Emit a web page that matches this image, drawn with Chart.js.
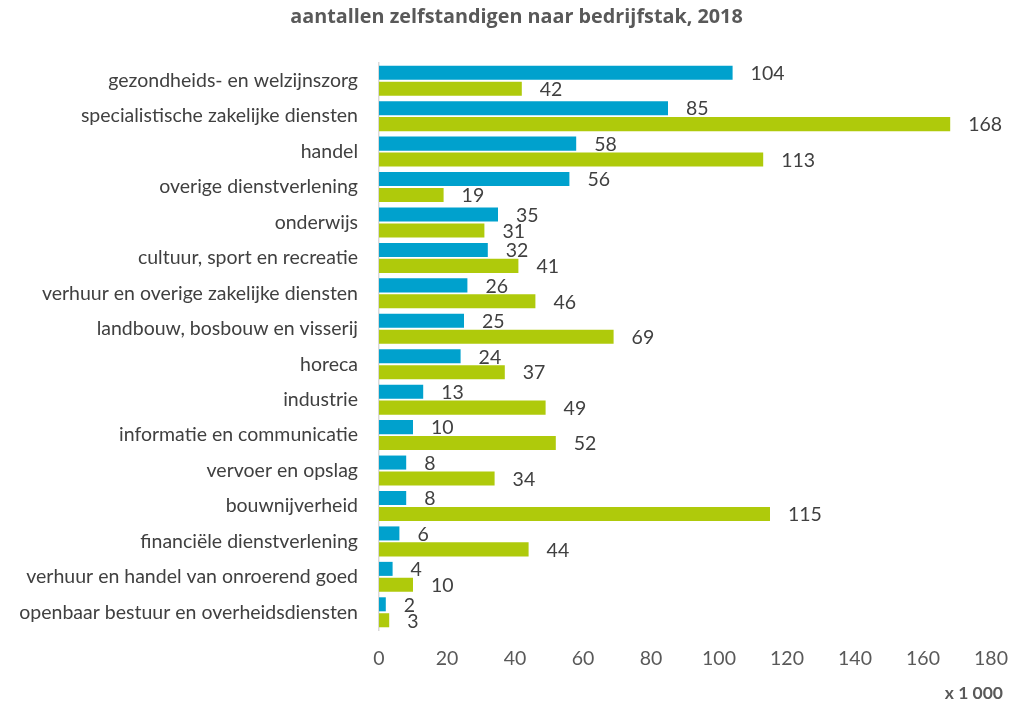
<!DOCTYPE html>
<html>
<head>
<meta charset="utf-8">
<script src="https://cdn.jsdelivr.net/npm/chart.js@4/dist/chart.umd.min.js"></script>
<style>
  html, body { margin: 0; padding: 0; background: #fff; }
  #wrap { width: 1016px; height: 706px; }
</style>
</head>
<body>
<div id="wrap"><canvas id="chart"></canvas></div>
<script>
var chartTitle = 'aantallen zelfstandigen naar bedrijfstak, 2018';
var unitLabel = 'x 1 000';

// bedrijfstakken, van boven naar beneden
var categories = [
    "gezondheids- en welzijnszorg",
    "specialistische zakelijke diensten",
    "handel",
    "overige dienstverlening",
    "onderwijs",
    "cultuur, sport en recreatie",
    "verhuur en overige zakelijke diensten",
    "landbouw, bosbouw en visserij",
    "horeca",
    "industrie",
    "informatie en communicatie",
    "vervoer en opslag",
    "bouwnijverheid",
    "financiële dienstverlening",
    "verhuur en handel van onroerend goed",
    "openbaar bestuur en overheidsdiensten"
];

// x 1 000
var blueValues  = [104, 85, 58, 56, 35, 32, 26, 25, 24, 13, 10, 8, 8, 6, 4, 2];
var greenValues = [42, 168, 113, 19, 31, 41, 46, 69, 37, 49, 52, 34, 115, 44, 10, 3];

var xTicks = { min: 0, max: 180, step: 20 };

var FONT = "Lato, 'Open Sans', sans-serif";

// waarde rechts naast elke staaf
var barLabels = {
    id: 'barLabels',
    afterDatasetsDraw: function (chart) {
        var ctx = chart.ctx;
        ctx.save();
        ctx.font = "19.5px " + FONT;
        ctx.fillStyle = "#404040";
        ctx.textAlign = "left";
        ctx.textBaseline = "middle";
        chart.data.datasets.forEach(function (ds, i) {
            var meta = chart.getDatasetMeta(i);
            meta.data.forEach(function (bar, j) {
                ctx.fillText(ds.data[j], bar.x + 18, bar.y + 1);
            });
        });
        ctx.restore();
    }
};

// titel boven de grafiek (iets rechts van het midden, zoals in het origineel)
var topTitle = {
    id: 'topTitle',
    afterDraw: function (chart) {
        var ctx = chart.ctx;
        ctx.save();
        ctx.font = "bold 19.8px 'Open Sans', Lato, sans-serif";
        ctx.fillStyle = "#595959";
        ctx.textAlign = "center";
        ctx.textBaseline = "middle";
        ctx.fillText(chartTitle, chart.width / 2 + 8.5, 17);
        ctx.restore();
    }
};

new Chart(document.getElementById('chart'), {
    type: 'bar',
    data: {
        labels: categories,
        datasets: [{
            label: 'reeks 1',
            data: blueValues,
            backgroundColor: '#00A1CD',
            barPercentage: 0.88,
            categoryPercentage: 0.9
        }, {
            label: 'reeks 2',
            data: greenValues,
            backgroundColor: '#AFCA0B',
            barPercentage: 0.88,
            categoryPercentage: 0.9
        }]
    },
    plugins: [barLabels, topTitle],
    options: {
        indexAxis: 'y',
        responsive: true,
        maintainAspectRatio: false,
        animation: false,
        layout: { padding: { left: 0, right: 13, top: 63, bottom: 0 } },
        plugins: {
            legend: { display: false },
            tooltip: { enabled: false },
            title: { display: false },
            subtitle: {
                display: true,
                position: 'bottom',
                align: 'end',
                text: unitLabel,
                color: '#595959',
                font: { family: FONT, size: 17.5, weight: 'bold' },
                padding: { top: 14, bottom: 2 }
            }
        },
        scales: {
            x: {
                min: xTicks.min,
                max: xTicks.max,
                grid: { display: false, drawTicks: false },
                border: { display: false },
                ticks: {
                    stepSize: xTicks.step,
                    color: '#595959',
                    font: { family: FONT, size: 19.5 },
                    padding: 17,
                    maxRotation: 0
                },
                afterFit: function (scale) {
                    scale.height = 39;
                    scale.paddingRight = 25;
                }
            },
            y: {
                grid: { display: false, drawTicks: false },
                border: { display: true, color: '#D9D9D9', width: 1.5 },
                ticks: {
                    color: '#404040',
                    font: { family: FONT, size: 19.5 },
                    padding: 21,
                    autoSkip: false
                },
                afterFit: function (scale) {
                    scale.width = 379;
                }
            }
        }
    }
});
</script>
</body>
</html>
